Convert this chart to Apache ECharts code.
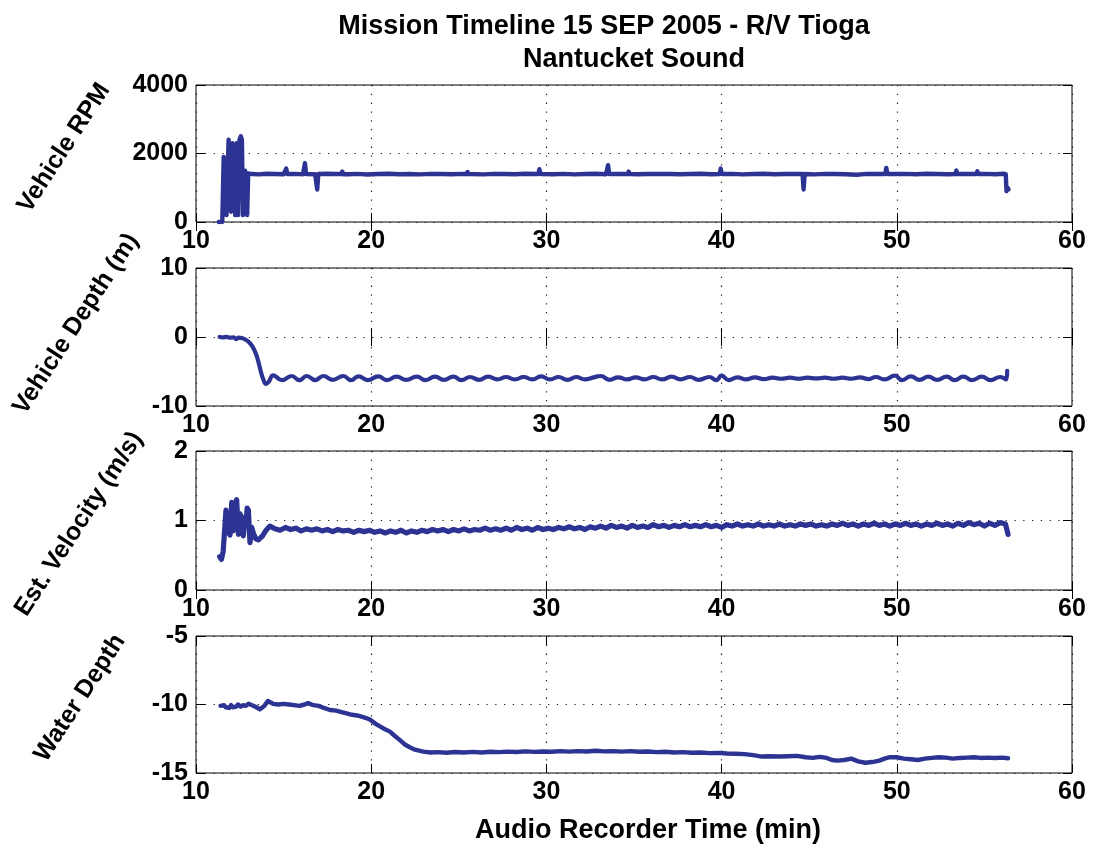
<!DOCTYPE html>
<html>
<head>
<meta charset="utf-8">
<script src="https://cdn.jsdelivr.net/npm/echarts@6/dist/echarts.min.js"></script>
<style>html,body{margin:0;padding:0;background:#fff}#c{width:1098px;height:848px}</style>
</head>
<body>
<div id="c"></div>
<script>
// ---------- DATA ----------
const titleLine1 = 'Mission Timeline 15 SEP 2005 - R/V Tioga';
const titleLine2 = 'Nantucket Sound';
const xAxisName = 'Audio Recorder Time (min)';
const panelNames = ['Vehicle RPM', 'Vehicle Depth (m)', 'Est. Velocity (m/s)', 'Water Depth'];
const xTicks = [10, 20, 30, 40, 50, 60];
const yRanges = [[0, 4000, 2000], [-10, 10, 10], [0, 2, 1], [-15, -5, 5]];

// [time (min), RPM]
const rpmData = [[11.30,0],[11.50,0],[11.58,1900],[11.68,1850],[11.74,200],[11.86,2400],[11.94,2380],[12.00,300],[12.08,2300],[12.16,2350],[12.24,200],[12.32,2300],[12.40,200],[12.48,2400],[12.56,2500],[12.62,2400],[12.68,200],[12.76,200],[12.80,1500],[12.86,1480],[12.92,200],[12.98,1420],[13.20,1400],[13.60,1390],[14.00,1410],[14.50,1400],[15.00,1395],[15.09,1400],[15.15,1560],[15.21,1400],[15.70,1405],[16.10,1390],[16.16,1400],[16.22,1720],[16.28,1400],[16.80,1395],[16.86,1400],[16.92,950],[16.98,1400],[17.50,1410],[18.00,1400],[18.29,1400],[18.35,1470],[18.41,1395],[18.70,1395],[19.20,1405],[19.80,1385],[20.40,1400],[21.00,1410],[21.60,1395],[22.20,1400],[22.80,1390],[23.40,1405],[24.00,1400],[24.60,1395],[25.20,1405],[25.44,1400],[25.50,1460],[25.56,1400],[26.40,1390],[27.00,1405],[27.60,1400],[28.20,1395],[28.80,1410],[29.40,1400],[29.54,1400],[29.60,1540],[29.66,1400],[30.40,1395],[31.00,1405],[31.60,1390],[32.20,1400],[32.80,1410],[33.40,1395],[33.46,1400],[33.52,1660],[33.58,1400],[34.20,1405],[34.64,1400],[34.70,1470],[34.76,1400],[35.20,1395],[35.80,1400],[36.40,1405],[36.94,1400],[37.00,1440],[37.06,1400],[37.60,1395],[38.20,1400],[38.80,1410],[39.40,1395],[39.89,1400],[39.95,1560],[40.01,1400],[40.60,1405],[41.20,1390],[41.80,1400],[42.40,1410],[43.00,1395],[43.60,1400],[44.20,1405],[44.62,1400],[44.68,950],[44.74,1400],[45.30,1390],[45.90,1405],[46.50,1400],[47.10,1395],[47.70,1380],[48.30,1405],[48.90,1400],[49.34,1400],[49.40,1580],[49.46,1400],[50.50,1405],[51.10,1395],[51.70,1410],[52.30,1400],[52.90,1395],[53.34,1400],[53.40,1500],[53.46,1400],[53.90,1400],[54.54,1400],[54.60,1480],[54.66,1400],[55.10,1405],[55.60,1395],[56.10,1410],[56.22,1400],[56.26,900],[56.32,1000],[56.38,950]];

// [time (min), depth (m)]
const depthData = [[11.35,0],[11.55,-0.05],[11.75,0.02],[11.95,-0.1],[12.15,-0.05],[12.30,-0.3],[12.45,-0.1],[12.60,-0.15],[12.80,-0.35],[13.00,-0.7],[13.20,-1.3],[13.40,-2.3],[13.55,-3.5],[13.70,-5.0],[13.85,-6.2],[14.00,-6.8],[14.15,-6.5],[14.41,-5.55],[14.90,-6.25],[15.46,-5.65],[15.90,-6.25],[16.32,-5.65],[16.80,-6.25],[17.27,-5.65],[17.80,-6.2],[18.41,-5.65],[18.85,-6.25],[19.27,-5.7],[19.80,-6.25],[20.40,-5.7],[20.90,-6.25],[21.45,-5.75],[22.00,-6.2],[22.60,-5.75],[23.10,-6.25],[23.64,-5.75],[24.15,-6.2],[24.69,-5.75],[25.15,-6.25],[25.64,-5.8],[26.15,-6.2],[26.68,-5.75],[27.20,-6.15],[27.70,-5.8],[28.20,-6.15],[28.70,-5.8],[29.20,-6.15],[29.70,-5.7],[30.20,-6.15],[30.70,-5.8],[31.20,-6.2],[31.70,-5.8],[32.20,-6.15],[32.70,-5.85],[33.10,-5.65],[33.60,-6.2],[34.10,-5.85],[34.60,-6.15],[35.10,-5.85],[35.60,-6.15],[36.10,-5.8],[36.60,-6.15],[37.15,-5.75],[37.65,-6.15],[38.20,-5.8],[38.70,-6.2],[39.30,-5.8],[39.70,-6.25],[40.00,-5.6],[40.40,-6.25],[40.90,-5.85],[41.40,-6.15],[41.90,-5.85],[42.40,-6.1],[42.90,-5.9],[43.40,-6.05],[43.90,-5.9],[44.40,-6.05],[44.90,-5.9],[45.40,-6.0],[45.90,-5.9],[46.40,-6.05],[46.90,-5.9],[47.40,-6.05],[47.90,-5.85],[48.40,-6.1],[48.80,-5.8],[49.30,-6.15],[49.90,-5.6],[50.30,-6.25],[50.80,-5.7],[51.30,-6.2],[51.80,-5.75],[52.30,-6.2],[52.85,-5.75],[53.30,-6.25],[53.80,-5.75],[54.30,-6.25],[54.85,-5.75],[55.35,-6.25],[55.90,-5.8],[56.25,-6.15],[56.30,-4.9]];

// [time (min), velocity (m/s)]
const velData = [[11.35,0.48],[11.45,0.44],[11.55,0.55],[11.66,0.56],[11.71,1.15],[11.80,0.82],[11.88,1.1],[11.94,0.79],[12.04,1.26],[12.12,0.85],[12.20,1.22],[12.32,1.3],[12.42,0.8],[12.50,1.1],[12.60,1.05],[12.70,0.78],[12.78,1.0],[12.85,0.95],[12.92,1.18],[12.99,1.15],[13.08,0.68],[13.18,0.9],[13.27,0.82],[13.40,0.74],[13.56,0.72],[13.80,0.78],[14.00,0.86],[14.22,0.92],[14.50,0.88],[14.8,0.86],[15.1,0.9],[15.4,0.87],[15.7,0.89],[16.0,0.85],[16.3,0.88],[16.6,0.86],[16.9,0.88],[17.2,0.85],[17.5,0.87],[17.8,0.84],[18.1,0.87],[18.4,0.85],[18.7,0.86],[19.0,0.83],[19.3,0.86],[19.6,0.84],[19.9,0.86],[20.2,0.83],[20.5,0.85],[20.8,0.82],[21.1,0.85],[21.4,0.83],[21.7,0.86],[22.0,0.82],[22.3,0.85],[22.6,0.83],[22.9,0.86],[23.2,0.84],[23.5,0.87],[23.8,0.85],[24.1,0.87],[24.4,0.84],[24.7,0.87],[25.0,0.85],[25.3,0.88],[25.6,0.85],[25.9,0.87],[26.2,0.86],[26.5,0.89],[26.8,0.86],[27.1,0.88],[27.4,0.86],[27.7,0.89],[28.0,0.86],[28.3,0.9],[28.6,0.87],[28.9,0.89],[29.2,0.86],[29.5,0.9],[29.8,0.87],[30.1,0.89],[30.4,0.87],[30.7,0.9],[31.0,0.88],[31.3,0.91],[31.6,0.88],[31.9,0.9],[32.2,0.87],[32.5,0.91],[32.8,0.89],[33.1,0.92],[33.4,0.89],[33.7,0.93],[34.0,0.9],[34.3,0.92],[34.6,0.89],[34.9,0.93],[35.2,0.9],[35.5,0.92],[35.8,0.9],[36.1,0.94],[36.4,0.91],[36.7,0.93],[37.0,0.9],[37.3,0.93],[37.6,0.91],[37.9,0.94],[38.2,0.91],[38.5,0.93],[38.8,0.91],[39.1,0.94],[39.4,0.91],[39.7,0.93],[40.0,0.9],[40.3,0.94],[40.6,0.92],[40.9,0.95],[41.2,0.92],[41.5,0.94],[41.8,0.92],[42.1,0.95],[42.4,0.92],[42.7,0.94],[43.0,0.92],[43.3,0.95],[43.6,0.92],[43.9,0.94],[44.2,0.92],[44.5,0.95],[44.8,0.93],[45.1,0.95],[45.4,0.92],[45.7,0.94],[46.0,0.92],[46.3,0.95],[46.6,0.93],[46.9,0.96],[47.2,0.93],[47.5,0.95],[47.8,0.92],[48.1,0.95],[48.4,0.93],[48.7,0.96],[49.0,0.93],[49.3,0.95],[49.6,0.92],[49.9,0.95],[50.2,0.93],[50.5,0.96],[50.8,0.93],[51.1,0.95],[51.4,0.92],[51.7,0.95],[52.0,0.93],[52.3,0.96],[52.6,0.93],[52.9,0.95],[53.2,0.92],[53.5,0.96],[53.8,0.93],[54.1,0.97],[54.4,0.94],[54.7,0.96],[55.0,0.92],[55.3,0.96],[55.6,0.93],[55.9,0.97],[56.2,0.95],[56.3,0.96],[56.35,0.8]];

// [time (min), water depth (m)]
const waterData = [[11.4,-10.1],[11.5,-10.2],[11.6,-10.05],[11.7,-10.2],[11.8,-10.1],[11.9,-10.25],[12.0,-10.05],[12.1,-10.2],[12.2,-10.1],[12.3,-10.15],[12.4,-10.0],[12.55,-10.15],[12.7,-10.05],[12.85,-10.1],[13.0,-9.95],[13.2,-10.05],[13.45,-10.2],[13.65,-10.35],[13.9,-10.1],[14.1,-9.75],[14.4,-9.95],[14.7,-10.0],[15.0,-9.95],[15.3,-10.0],[15.6,-10.05],[15.9,-10.1],[16.2,-10.0],[16.4,-9.9],[16.7,-10.05],[17.0,-10.1],[17.3,-10.25],[17.65,-10.4],[18.0,-10.45],[18.3,-10.55],[18.6,-10.65],[18.9,-10.75],[19.2,-10.8],[19.5,-10.9],[19.9,-11.08],[20.3,-11.45],[20.7,-11.75],[21.07,-11.98],[21.35,-12.3],[21.64,-12.6],[21.9,-12.9],[22.2,-13.12],[22.5,-13.3],[22.97,-13.44],[23.4,-13.5],[23.8,-13.48],[24.3,-13.52],[24.8,-13.47],[25.3,-13.5],[25.8,-13.46],[26.3,-13.5],[26.8,-13.45],[27.3,-13.48],[27.8,-13.44],[28.3,-13.47],[28.8,-13.42],[29.3,-13.46],[29.8,-13.43],[30.3,-13.45],[30.8,-13.4],[31.3,-13.44],[31.8,-13.4],[32.3,-13.43],[32.8,-13.38],[33.3,-13.42],[33.8,-13.4],[34.3,-13.44],[34.8,-13.4],[35.3,-13.45],[35.8,-13.43],[36.3,-13.48],[36.8,-13.45],[37.3,-13.5],[37.8,-13.48],[38.3,-13.52],[38.8,-13.5],[39.3,-13.55],[39.8,-13.53],[40.3,-13.58],[40.8,-13.6],[41.3,-13.62],[41.8,-13.7],[42.3,-13.8],[42.8,-13.78],[43.3,-13.8],[43.8,-13.78],[44.3,-13.75],[44.8,-13.85],[45.2,-13.9],[45.6,-13.82],[46.0,-13.9],[46.3,-14.05],[46.6,-14.1],[47.0,-14.05],[47.4,-13.95],[47.8,-14.15],[48.2,-14.25],[48.6,-14.2],[49.0,-14.1],[49.3,-13.95],[49.6,-13.85],[50.0,-13.85],[50.4,-13.95],[50.8,-14.0],[51.2,-14.05],[51.6,-13.95],[52.0,-13.9],[52.4,-13.85],[52.8,-13.88],[53.2,-13.95],[53.6,-13.9],[54.0,-13.88],[54.4,-13.85],[54.8,-13.9],[55.2,-13.88],[55.6,-13.9],[56.0,-13.88],[56.35,-13.92]];

// ---------- CHART ----------
const FONT = '"Liberation Sans", Arial, Helvetica, sans-serif';
const LINE_COLOR = '#2D3393';
const gridTops = [85, 268, 451, 636];
const gridHeights = [137, 138, 139, 137];
const nameCenters = [[64, 148], [76, 324], [79, 524], [80, 698]];
const seriesSets = [rpmData, depthData, velData, waterData];
const lineWidths = [4.4, 4.2, 5.2, 4.4];

const grids = [], xAxes = [], yAxes = [], series = [], graphics = [];
const dotted = { show: true, lineStyle: { color: '#222', width: 1.2, type: [1.3, 7.5] } };
const tick = { show: true, inside: true, length: 9, lineStyle: { color: '#000', width: 1 } };
const label = { show: true, color: '#000', fontSize: 25, fontWeight: 'bold', fontFamily: FONT, formatter: v => String(v) };

for (let i = 0; i < 4; i++) {
  grids.push({ left: 196, right: 26, top: gridTops[i], height: gridHeights[i], show: true, borderColor: '#000', borderWidth: 1, containLabel: false });
  const xb = { type: 'value', gridIndex: i, min: xTicks[0], max: xTicks[xTicks.length - 1], interval: 10, position: 'bottom',
    axisLine: { show: false }, axisTick: tick, axisLabel: Object.assign({ margin: 7 }, label), splitLine: dotted };
  if (i === 3) {
    Object.assign(xb, { name: xAxisName, nameLocation: 'middle', nameGap: 44,
      nameTextStyle: { color: '#000', fontSize: 27, fontWeight: 'bold', fontFamily: FONT, padding: [0, 0, 0, 28] } });
  }
  xAxes.push(xb);
  xAxes.push({ type: 'value', gridIndex: i, min: xTicks[0], max: xTicks[xTicks.length - 1], interval: 10, position: 'top',
    axisLine: { show: false }, axisTick: tick, axisLabel: { show: false }, splitLine: { show: false } });
  const [mn, mx, iv] = yRanges[i];
  yAxes.push({ type: 'value', gridIndex: i, min: mn, max: mx, interval: iv, position: 'left',
    axisLine: { show: false }, axisTick: tick, axisLabel: Object.assign({ margin: 8 }, label), splitLine: dotted });
  yAxes.push({ type: 'value', gridIndex: i, min: mn, max: mx, interval: iv, position: 'right',
    axisLine: { show: false }, axisTick: tick, axisLabel: { show: false }, splitLine: { show: false } });
  series.push({ type: 'line', xAxisIndex: 2 * i, yAxisIndex: 2 * i, data: seriesSets[i],
    showSymbol: false, smooth: i === 1 ? 0.5 : false, animation: false,
    lineStyle: { color: LINE_COLOR, width: lineWidths[i], join: 'round', cap: 'round' } });
  graphics.push({ type: 'text', x: nameCenters[i][0], y: nameCenters[i][1], rotation: 57 * Math.PI / 180,
    style: { text: panelNames[i], fill: '#000', font: 'bold 25px ' + FONT, fontSize: 25, fontWeight: 'bold', fontFamily: FONT,
      align: 'center', verticalAlign: 'middle', textAlign: 'center', textVerticalAlign: 'middle' } });
}

const chart = echarts.init(document.getElementById('c'), null, { renderer: 'canvas' });
chart.setOption({
  backgroundColor: '#fff',
  animation: false,
  title: [
    { text: titleLine1, left: 599, top: 8, textAlign: 'center', textStyle: { color: '#000', fontSize: 27, fontWeight: 'bold', fontFamily: FONT } },
    { text: titleLine2, left: 629, top: 41, textAlign: 'center', textStyle: { color: '#000', fontSize: 27, fontWeight: 'bold', fontFamily: FONT } }
  ],
  grid: grids,
  xAxis: xAxes,
  yAxis: yAxes,
  series: series,
  graphic: graphics
});
</script>
</body>
</html>
